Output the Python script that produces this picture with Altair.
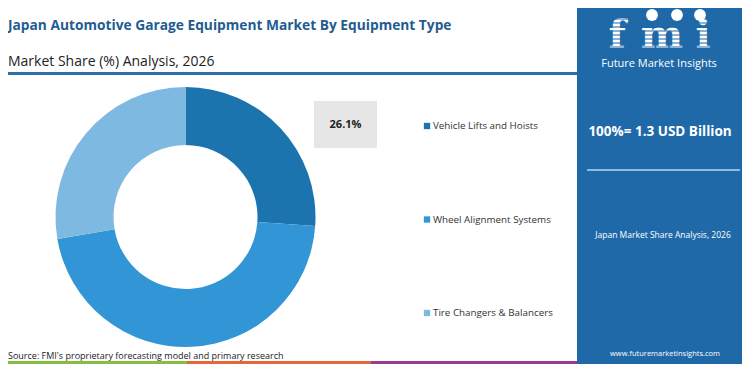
import altair as alt
import pandas as pd

# ---------------- data ----------------
categories = ["Vehicle Lifts and Hoists", "Wheel Alignment Systems", "Tire Changers & Balancers"]
shares = [26.1, 46.2, 27.7]
colors = ["#1c74ae", "#3296d6", "#7db9e1"]

title = "Japan Automotive Garage Equipment Market By Equipment Type"
subtitle = "Market Share (%) Analysis, 2026"
source = "Source: FMI's proprietary forecasting model and primary research"
total_label = "100%= 1.3 USD Billion"
panel_sub = "Japan Market Share Analysis, 2026"
brand = "Future Market Insights"
website = "www.futuremarketinsights.com"
logo_letters = ["f", "m", "i"]

PANEL = "#1f69a8"
OFF = 8  # page margin
W, H = 734, 356


def p(v):
    return v - OFF


df = pd.DataFrame({"category": categories, "share": shares,
                   "idx": list(range(len(categories)))})
one = pd.DataFrame({"k": [0]})

color = alt.Color("category:N", scale=alt.Scale(domain=categories, range=colors), legend=None)


def rect(x, x2, y, y2, fill):
    return alt.Chart(one).mark_rect(color=fill).encode(
        x=alt.value(p(x)), x2=alt.value(p(x2)), y=alt.value(p(y)), y2=alt.value(p(y2)))


def hline(x, x2, y, stroke, width):
    return alt.Chart(one).mark_rule(color=stroke, strokeWidth=width).encode(
        x=alt.value(p(x)), x2=alt.value(p(x2)), y=alt.value(p(y)))


def text(s, x, y, size, fill, weight="normal", align="left", font="Open Sans", baseline="middle"):
    return alt.Chart(one).mark_text(text=s, fontSize=size, color=fill, fontWeight=weight,
                                    align=align, baseline=baseline, font=font).encode(
        x=alt.value(p(x)), y=alt.value(p(y)))


layers = []

# header
layers.append(text(title, 8, 26, 13.75, "#1f5c8f", weight="bold"))
layers.append(text(subtitle, 8, 62, 14, "#222222"))
layers.append(hline(0, 578, 73.5, "#2f6ea6", 3))

# donut
donut = alt.Chart(df).mark_arc(radius=130, innerRadius=72).encode(
    theta=alt.Theta("share:Q", stack=True),
    color=color,
    order=alt.Order("idx:Q"),
    x=alt.value(p(185.5)), y=alt.value(p(217)))
layers.append(donut)

# value label box
layers.append(rect(314, 377, 101, 148, "#e6e6e6"))
lab = alt.Chart(df).transform_filter("datum.idx == 0").transform_calculate(
    lbl="format(datum.share, '.1f') + '%'").mark_text(
    fontSize=11, fontWeight="bold", color="#222222", font="Open Sans",
    align="center", baseline="middle").encode(
    x=alt.value(p(345.5)), y=alt.value(p(125)), text="lbl:N")
layers.append(lab)

# legend
ypos = alt.Y("category:N", scale=alt.Scale(type="point", domain=categories,
                                           range=[p(126), p(313)], padding=0), axis=None)
layers.append(alt.Chart(df).mark_square(size=40, opacity=1).encode(
    x=alt.value(p(427)), y=ypos, color=color))
layers.append(alt.Chart(df).mark_text(align="left", baseline="middle", fontSize=9.8,
                                      color="#333333", font="Open Sans").encode(
    x=alt.value(p(433)), y=ypos, text="category:N"))

# source
layers.append(text(source, 8, 355.5, 9, "#222222"))

# bottom stripe (kept inside the drawable area)
layers.append(rect(0, 187, 361, 364, "#86bd45"))
layers.append(rect(187, 371, 361, 364, "#e4673a"))
layers.append(rect(371, 578, 361, 364, "#9a3b93"))

# right panel
layers.append(rect(577, 750, 2, 372, PANEL))
for letter, lx in zip(logo_letters, [617, 662, 703]):
    layers.append(text(letter, lx, 48, 40, "white", weight="bold", align="center",
                       font="DejaVu Serif", baseline="alphabetic"))
for sy in [19, 23, 27, 31, 35, 39, 43, 47]:
    layers.append(hline(598, 716, sy, PANEL, 1.2))
for cx in [652, 677, 700]:
    layers.append(alt.Chart(one).mark_circle(size=140, color="white", opacity=1).encode(
        x=alt.value(p(cx)), y=alt.value(p(15))))
layers.append(text(brand, 659, 64, 11, "white", align="center"))
layers.append(text(total_label, 660, 132, 13.5, "white", weight="bold", align="center"))
layers.append(hline(587, 740, 170, "#8dbbe4", 2))
layers.append(text(panel_sub, 663, 235, 8.5, "white", align="center"))
layers.append(text(website, 665, 354, 7.5, "white", align="center"))

chart = alt.layer(*layers).properties(
    width=W, height=H,
    autosize=alt.AutoSizeParams(type="none"),
    padding=0,
).configure_view(stroke=None)

chart.save("out.html", embed_options={"renderer": "svg", "actions": False})
